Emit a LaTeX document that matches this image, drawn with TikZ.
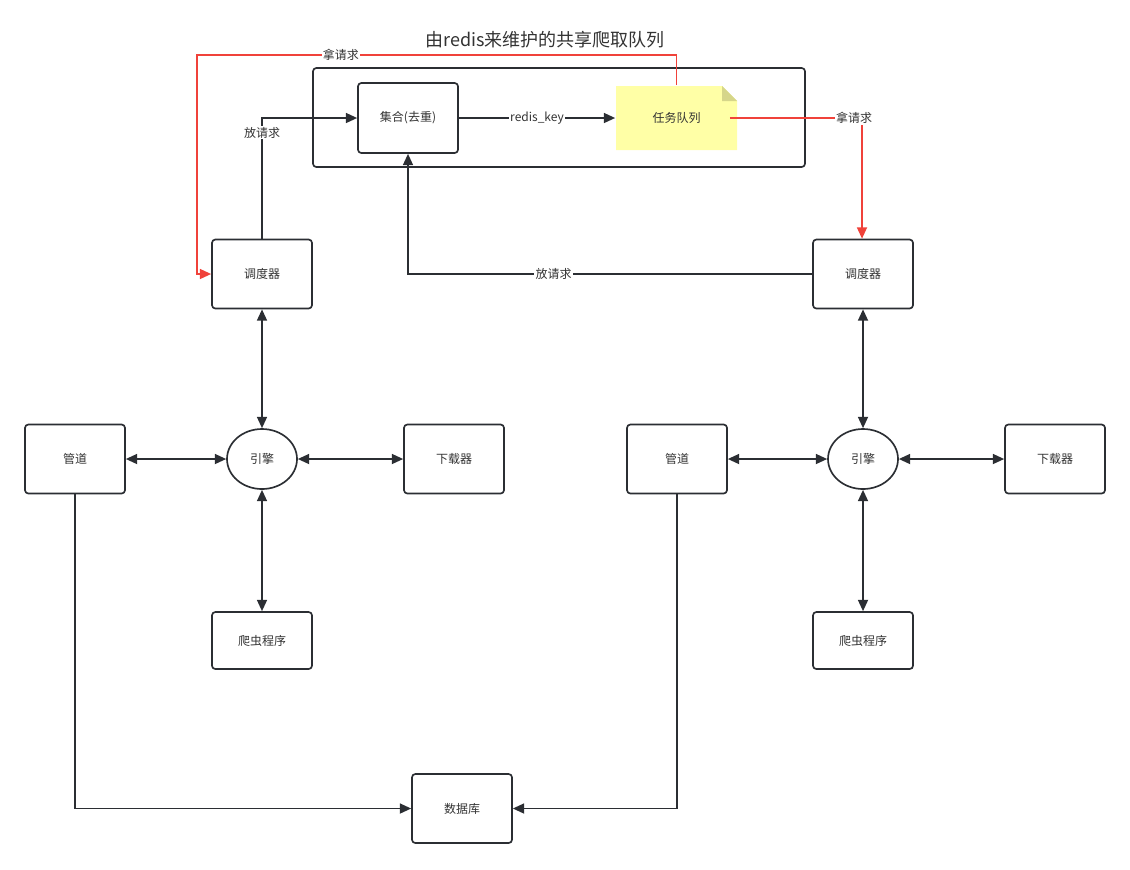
\documentclass[tikz,border=0pt]{standalone}
\usepackage{fontspec}
\setmainfont{Noto Sans CJK SC}
\usepackage{tikz}
\usetikzlibrary{%
  positioning
 ,arrows.meta
 ,shapes.geometric
 ,calc
}
\definecolor{ln}{HTML}{2B2E33}
\definecolor{txt}{HTML}{333333}
\definecolor{req}{HTML}{F0423A}
\definecolor{notefill}{HTML}{FFFFA6}
\definecolor{notefold}{HTML}{D6D68A}
\tikzstyle{flow}=[x=0.75pt,y=-0.75pt,>={Triangle[length=8.5pt,width=7.5pt]},line width=1.25pt,color=ln,text=txt,font=\fontsize{9}{11}\selectfont]
\tikzstyle{box}=[rectangle,draw=ln,rounded corners=2.5pt,minimum width=75pt,minimum height=51.75pt,inner sep=2pt]
\tikzstyle{eng}=[ellipse,draw=ln,minimum width=52.5pt,minimum height=45pt,inner sep=0pt]
\tikzstyle{lbl}=[fill=white,inner sep=1pt,text=txt]
\tikzstyle{pull}=[->,draw=req]
\def\ppb{path picture bounding box}
\tikzstyle{note}=[rectangle,minimum width=90.75pt,minimum height=48pt,inner sep=0pt,
  path picture={
    \fill[notefill] (\ppb.north west) -- ([xshift=-11.25pt]\ppb.north east)
      -- ([yshift=-11.25pt]\ppb.north east) -- (\ppb.south east) -- (\ppb.south west) -- cycle;
    \fill[notefold] ([xshift=-11.25pt]\ppb.north east) -- ([yshift=-11.25pt]\ppb.north east)
      -- ([xshift=-11.25pt,yshift=-11.25pt]\ppb.north east) -- cycle;
  }]

\begin{document}
\begin{tikzpicture}[flow]
  \useasboundingbox (0,0) rectangle (1130,869);
  \node[font=\fontsize{13.5}{16}\selectfont] (title) at (545,40) {由redis来维护的共享爬取队列};
  \node[box,minimum width=369pt,minimum height=74.25pt] (redisbox) at (559,117.5) {};
  \node[box,minimum height=52.5pt] (set)   at (408,118)   {集合(去重)};
  \node[note]                     (queue) at (676.5,118) {任务队列};
% left crawler
  \node[box]                      (sch1)  at (262,274)   {调度器};
  \node[eng]                      (eng1)  at (262,459)   {引擎};
  \node[box]                      (pipe1) at (75,459)    {管道};
  \node[box]                      (dl1)   at (454,459)   {下载器};
  \node[box,minimum height=42.75pt] (spd1) at (262,640.5) {爬虫程序};
% right crawler
  \node[box]                      (sch2)  at (863,274)   {调度器};
  \node[eng]                      (eng2)  at (863,459)   {引擎};
  \node[box]                      (pipe2) at (677,459)   {管道};
  \node[box]                      (dl2)   at (1055,459)  {下载器};
  \node[box,minimum height=42.75pt] (spd2) at (863,640.5) {爬虫程序};
  \node[box]                      (db)    at (462,808.5) {数据库};
  \coordinate (top) at (197,55);
% 
  \draw[->] (set) -- node[lbl] {redis\_key} (queue);
  \draw[->] (sch1.north) |- node[lbl,pos=0.44] {放请求} (set.west);
  \draw[->] (sch2.west) -| node[lbl,pos=0.32] {放请求} (set.south);
  \draw[pull] (queue.north) |- node[lbl,pos=0.85] {拿请求} (top) |- (sch1.west);
  \draw[pull] ([xshift=-6pt]queue.east) -| node[lbl,pos=0.47] {拿请求} ([xshift=-0.75pt]sch2.north);
  \path[<->]
  (sch1) edge (eng1)
  (eng1) edge (pipe1)
  (eng1) edge (dl1)
  (eng1) edge (spd1)
  (sch2) edge (eng2)
  (eng2) edge (pipe2)
  (eng2) edge (dl2)
  (eng2) edge (spd2);
  \draw[->] (pipe1.south) |- (db.west);
  \draw[->] (pipe2.south) |- (db.east);
\end{tikzpicture}
\end{document}
